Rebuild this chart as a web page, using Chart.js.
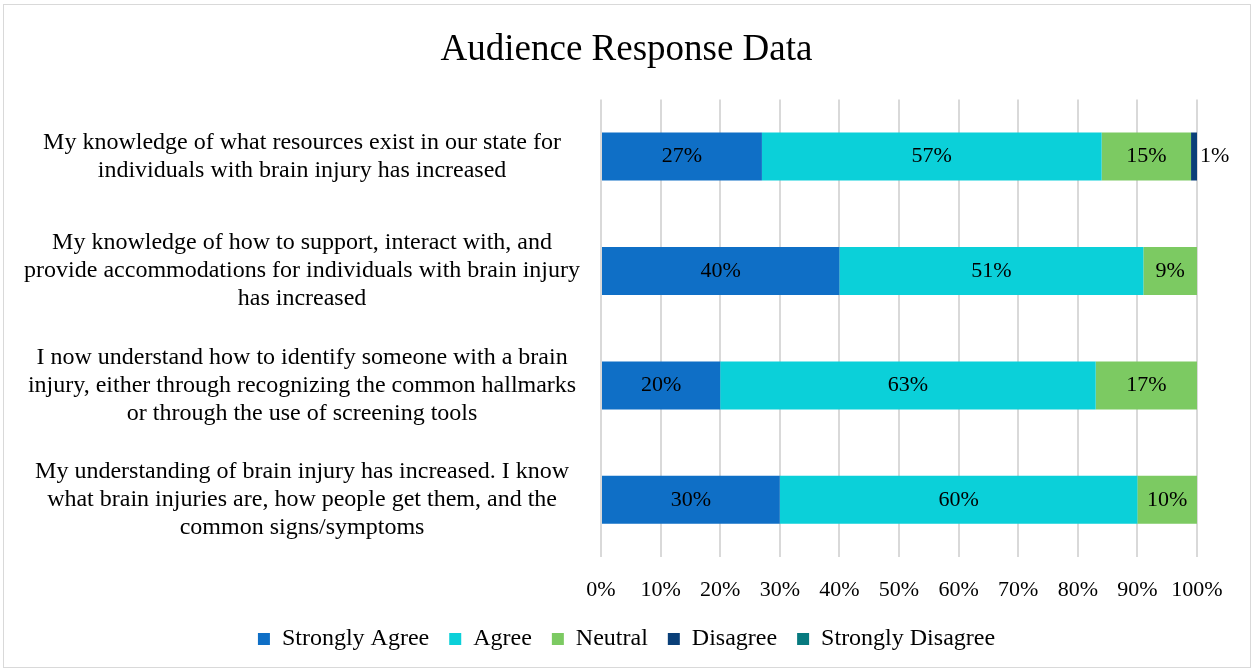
<!DOCTYPE html>
<html>
<head>
<meta charset="utf-8">
<script src="https://cdn.jsdelivr.net/npm/chart.js@4.4.0/dist/chart.umd.min.js"></script>
<style>
  html, body { margin: 0; padding: 0; background: #fff; }
  #frame { position: absolute; left: 3px; top: 4px; width: 1246px; height: 662px; border: 1px solid #d9d9d9; }
  #wrap { position: absolute; left: 0; top: 0; width: 1253px; height: 669px; }
</style>
</head>
<body>
<div id="frame"></div>
<div id="wrap"><canvas id="chart" width="1253" height="669"></canvas></div>
<script>
// Chart data
const categories = [
  ["My knowledge of what resources exist in our state for", "individuals with brain injury has increased"],
  ["My knowledge of how to support, interact with, and", "provide accommodations for individuals with brain injury", "has increased"],
  ["I now understand how to identify someone with a brain", "injury, either through recognizing the common hallmarks", "or through the use of screening tools"],
  ["My understanding of brain injury has increased. I know", "what brain injuries are, how people get them, and the", "common signs/symptoms"],
];

const seriesNames = ["Strongly Agree", "Agree", "Neutral", "Disagree", "Strongly Disagree"];
const seriesColors = ["#0F6FC6", "#0BD0D9", "#7CCA62", "#0A3F78", "#077A7F"];

const stronglyAgree = [27, 40, 20, 30];
const agree = [57, 51, 63, 60];
const neutral = [15, 9, 17, 10];
const disagree = [1, 0, 0, 0];
const stronglyDisagree = [0, 0, 0, 0];

const xTicks = [0, 10, 20, 30, 40, 50, 60, 70, 80, 90, 100];

const FONT = "'Liberation Serif', 'Times New Roman', serif";

// Draw percentage labels on the bars
const barLabels = {
  id: "barLabels",
  afterDatasetsDraw(chart) {
    const ctx = chart.ctx;
    ctx.save();
    ctx.font = "22px " + FONT;
    ctx.fillStyle = "#000";
    ctx.textBaseline = "middle";
    chart.data.datasets.forEach((ds, i) => {
      const meta = chart.getDatasetMeta(i);
      if (meta.hidden) return;
      meta.data.forEach((bar, j) => {
        const v = ds.data[j];
        if (!v) return;
        const text = v + "%";
        const w = Math.abs(bar.x - bar.base);
        if (w < 30) {
          // too narrow, put it just right of the bar
          ctx.textAlign = "left";
          ctx.fillText(text, bar.x + 3, bar.y);
        } else {
          ctx.textAlign = "center";
          ctx.fillText(text, (bar.x + bar.base) / 2, bar.y);
        }
      });
    });
    ctx.restore();
  },
};

const allSeries = [stronglyAgree, agree, neutral, disagree, stronglyDisagree];

const ctx = document.getElementById("chart").getContext("2d");
new Chart(ctx, {
  type: "bar",
  data: {
    labels: categories,
    datasets: seriesNames.map((name, i) => ({
      label: name,
      data: allSeries[i],
      backgroundColor: seriesColors[i],
      borderWidth: 0,
      categoryPercentage: 0.42,
      barPercentage: 1,
    })),
  },
  options: {
    indexAxis: "y",
    responsive: false,
    animation: false,
    layout: { padding: { left: 0, right: 0, top: 0, bottom: 8 } },
    scales: {
      x: {
        stacked: true,
        min: 0,
        max: 100,
        afterBuildTicks: (scale) => {
          scale.ticks = xTicks.map((v) => ({ value: v }));
        },
        afterFit: (scale) => {
          scale.height = 50;
        },
        grid: { color: "#d9d9d9", lineWidth: 2, drawTicks: false },
        border: { display: false },
        ticks: {
          padding: 20,
          color: "#000",
          font: { family: FONT, size: 22 },
          callback: (v) => v + "%",
        },
      },
      y: {
        stacked: true,
        grid: { display: false, drawTicks: false },
        border: { display: false },
        afterFit: (scale) => {
          scale.width = 601;
        },
        ticks: {
          crossAlign: "center",
          padding: 21,
          color: "#000",
          font: { family: FONT, size: 24, lineHeight: 1.17 },
        },
      },
      // empty right margin so the title and legend stay centred on the page
      yRight: {
        type: "linear",
        position: "right",
        grid: { display: false, drawTicks: false },
        border: { display: false },
        ticks: { display: false },
        afterFit: (scale) => {
          scale.width = 56;
        },
      },
    },
    plugins: {
      title: {
        display: true,
        text: "Audience Response Data",
        color: "#000",
        font: { family: FONT, size: 37, weight: "normal" },
        padding: { top: 28, bottom: 27 },
      },
      legend: {
        position: "bottom",
        labels: {
          boxWidth: 12,
          boxHeight: 12,
          padding: 20,
          color: "#000",
          font: { family: FONT, size: 24 },
        },
      },
      tooltip: { enabled: false },
    },
  },
  plugins: [barLabels],
});
</script>
</body>
</html>
